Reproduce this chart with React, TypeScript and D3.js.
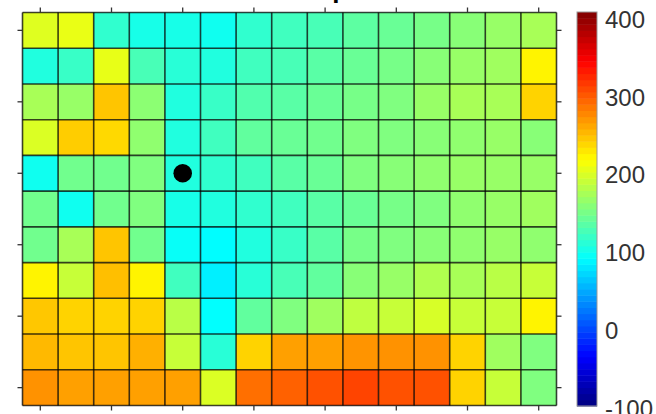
import React from "react";
import * as d3 from "d3";

// ---- data ----
const nCols = 15;
const nRows = 11;
const row0 = [197, 202, 111, 99, 99, 95, 111, 119, 123, 133, 139, 146, 154, 162, 170];
const row1 = [103, 115, 201, 123, 107, 103, 119, 123, 131, 139, 146, 154, 162, 166, 218];
const row2 = [170, 162, 241, 156, 103, 115, 127, 131, 139, 146, 150, 162, 170, 170, 234];
const row3 = [195, 237, 231, 158, 103, 119, 135, 139, 143, 150, 150, 154, 158, 162, 154];
const row4 = [95, 143, 143, 150, 103, 111, 119, 131, 139, 150, 154, 158, 162, 162, 162];
const row5 = [143, 95, 143, 150, 99, 103, 111, 119, 131, 139, 146, 150, 158, 162, 166];
const row6 = [143, 170, 241, 143, 91, 87, 103, 115, 131, 146, 150, 154, 158, 162, 158];
const row7 = [218, 185, 244, 218, 119, 80, 107, 123, 135, 154, 162, 174, 170, 178, 185];
const row8 = [240, 234, 234, 234, 178, 88, 135, 150, 166, 181, 185, 193, 185, 185, 218];
const row9 = [247, 241, 241, 251, 185, 107, 234, 259, 259, 265, 266, 266, 234, 166, 150];
const row10 = [266, 259, 259, 259, 259, 195, 283, 290, 298, 304, 298, 298, 234, 185, 150];
const gridRows = [row0, row1, row2, row3, row4, row5, row6, row7, row8, row9, row10];

const xTickCols = [0, 2, 4, 6, 8, 10, 12, 14];
const yTickRows = [0, 2, 4, 6, 8, 10];
const colorDomain = [-100, 400];
const colorbarTicks = [-100, 0, 100, 200, 300, 400];
const markerCol = 4;
const markerRow = 4;
const titleText = "Heat map";

// ---- jet colormap ----
function jet(t: number): string {
  const c = (v: number) => Math.max(0, Math.min(1, v));
  const r = c(1.5 - Math.abs(4 * t - 3));
  const g = c(1.5 - Math.abs(4 * t - 2));
  const b = c(1.5 - Math.abs(4 * t - 1));
  return d3.rgb(r * 255, g * 255, b * 255).formatHex();
}

export default function App() {
  const W = 656;
  const H = 414;
  const x = d3.scaleBand<number>().domain(d3.range(nCols)).range([22.5, 556.5]).padding(0);
  const y = d3.scaleBand<number>().domain(d3.range(nRows)).range([12.5, 405.5]).padding(0);
  const color = d3.scaleSequential((t: number) => jet(t)).domain(colorDomain as [number, number]);

  // colorbar
  const cbX = 577;
  const cbW = 20;
  const cbY = d3.scaleLinear().domain(colorDomain).range([406, 12]);
  const cbLabelY = d3.scaleLinear().domain(colorDomain).range([408, 19.5]);
  const nSteps = 64;
  const stepVals = d3.range(nSteps).map(
    (i) => colorDomain[0] + ((i + 0.5) * (colorDomain[1] - colorDomain[0])) / nSteps
  );
  const stepH = (cbY(colorDomain[0]) - cbY(colorDomain[1])) / nSteps;

  const tickLen = 5;
  const tickColor = "#333";
  const x0 = x.range()[0];
  const x1 = x.range()[1];
  const y0 = y.range()[0];
  const y1 = y.range()[1];

  return (
    <svg
      width={W}
      height={H}
      style={{ position: "absolute", left: 0, top: 0, background: "#fff" }}
      fontFamily="'Liberation Sans', Arial, Helvetica, sans-serif"
    >
      <rect x={0} y={0} width={W} height={H} fill="#fff" />
      {/* title (mostly clipped at top) */}
      <text x={289.5} y={-2.5} textAnchor="middle" fontSize={26} fontWeight="bold" fill="#000">
        {titleText}
      </text>

      {/* cells */}
      <g>
        {gridRows.map((row, r) =>
          row.map((v, c) => (
            <rect
              key={`${r}-${c}`}
              x={x(c)}
              y={y(r)}
              width={x.bandwidth()}
              height={y.bandwidth()}
              fill={color(v)}
            />
          ))
        )}
      </g>
      {/* grid lines */}
      <g stroke="#000" strokeOpacity={0.75} strokeWidth={1.6}>
        {d3.range(nCols + 1).map((i) => {
          const xx = i < nCols ? (x(i) as number) : x1;
          return <line key={`v${i}`} x1={xx} x2={xx} y1={y0} y2={y1} />;
        })}
        {d3.range(nRows + 1).map((i) => {
          const yy = i < nRows ? (y(i) as number) : y1;
          return <line key={`h${i}`} x1={x0} x2={x1} y1={yy} y2={yy} />;
        })}
      </g>

      {/* ticks */}
      <g stroke={tickColor} strokeWidth={1.3}>
        {xTickCols.map((c) => {
          const cx = (x(c) as number) + x.bandwidth() / 2;
          return (
            <g key={`xt${c}`}>
              <line x1={cx} x2={cx} y1={y0} y2={y0 - tickLen} />
              <line x1={cx} x2={cx} y1={y1} y2={y1 + tickLen} />
            </g>
          );
        })}
        {yTickRows.map((r) => {
          const cy = (y(r) as number) + y.bandwidth() / 2;
          return (
            <g key={`yt${r}`}>
              <line x1={x0} x2={x0 - tickLen} y1={cy} y2={cy} />
              <line x1={x1} x2={x1 + tickLen} y1={cy} y2={cy} />
            </g>
          );
        })}
      </g>

      {/* marker */}
      <circle
        cx={(x(markerCol) as number) + x.bandwidth() / 2}
        cy={(y(markerRow) as number) + y.bandwidth() / 2}
        r={9.3}
        fill="#000"
      />

      {/* colorbar */}
      <g>
        {stepVals.map((v, i) => (
          <rect
            key={`cb${i}`}
            x={cbX}
            y={cbY(colorDomain[0]) - (i + 1) * stepH}
            width={cbW}
            height={stepH + 0.5}
            fill={color(v)}
          />
        ))}
        <rect
          x={cbX}
          y={cbY(colorDomain[1])}
          width={cbW}
          height={cbY(colorDomain[0]) - cbY(colorDomain[1])}
          fill="none"
          stroke="#999"
          strokeWidth={1}
        />
        {colorbarTicks.map((t) => (
          <text
            key={`cbl${t}`}
            x={605}
            y={cbLabelY(t)}
            dominantBaseline="central"
            fontSize={24}
            fill="#333"
          >
            {t}
          </text>
        ))}
      </g>
    </svg>
  );
}
